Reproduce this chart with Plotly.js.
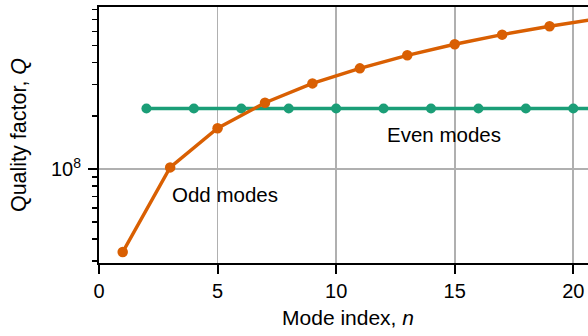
<!DOCTYPE html>
<html>
<head>
<meta charset="utf-8">
<script src="https://cdn.plot.ly/plotly-3.0.1.min.js"></script>
<style>
  html, body { margin: 0; padding: 0; overflow: hidden; background: #fff; }
  #chart { width: 600px; height: 336px; }
</style>
</head>
<body>
<div id="chart"></div>
<script>
// Quality factor of the odd and even modes versus mode index
const oddN = [1, 3, 5, 7, 9, 11, 13, 15, 17, 19, 21];
const oddQ = [3.38e7, 1.02e8, 1.70e8, 2.37e8, 3.05e8, 3.71e8, 4.40e8, 5.08e8, 5.76e8, 6.43e8, 7.08e8];
const evenN = [2, 4, 6, 8, 10, 12, 14, 16, 18, 20, 22];
const evenQ = [2.2e8, 2.2e8, 2.2e8, 2.2e8, 2.2e8, 2.2e8, 2.2e8, 2.2e8, 2.2e8, 2.2e8, 2.2e8];

const xTicks = [0, 5, 10, 15, 20];
const yMajor = [1e8];
const yMajorText = ['10<sup>8</sup>'];
const yMinor = [3e7, 4e7, 5e7, 6e7, 7e7, 8e7, 9e7, 2e8, 3e8, 4e8, 5e8, 6e8, 7e8, 8e8];

const ORANGE = '#d95f02';
const GREEN = '#1b9e77';
const FONT = 'Liberation Sans, Arial, Helvetica, sans-serif';

const traces = [
  {
    x: evenN, y: evenQ, type: 'scatter', mode: 'lines+markers',
    line: { color: GREEN, width: 3.4 },
    marker: { color: GREEN, size: 10 },
    cliponaxis: true, showlegend: false, hoverinfo: 'skip'
  },
  {
    x: oddN, y: oddQ, type: 'scatter', mode: 'lines+markers',
    line: { color: ORANGE, width: 3.4 },
    marker: { color: ORANGE, size: 10.5 },
    cliponaxis: true, showlegend: false, hoverinfo: 'skip'
  }
];

const layout = {
  width: 600, height: 336,
  margin: { l: 99, r: 3, t: 7, b: 73, pad: 0 },
  paper_bgcolor: '#fff', plot_bgcolor: '#fff',
  font: { family: FONT, size: 20, color: '#000' },
  showlegend: false,
  xaxis: {
    range: [0, 21],
    tickmode: 'array', tickvals: xTicks, ticktext: xTicks.map(String),
    ticks: 'outside', ticklen: 9, tickwidth: 2, tickcolor: '#000',
    showline: true, linecolor: '#000', linewidth: 2, mirror: true,
    showgrid: true, gridcolor: '#b0b0b0', gridwidth: 1.6,
    zeroline: false,
    tickfont: { family: FONT, size: 20, color: '#000' },
    title: { text: 'Mode index, <i>n</i>', font: { family: FONT, size: 21, color: '#000' }, standoff: 9 }
  },
  yaxis: {
    type: 'log',
    range: [7.467, 8.917],
    tickmode: 'array', tickvals: yMajor, ticktext: yMajorText,
    ticks: 'outside', ticklen: 9, tickwidth: 2, tickcolor: '#000',
    ticklabelstandoff: 3,
    minor: { tickmode: 'array', tickvals: yMinor, ticks: 'outside', ticklen: 5, tickwidth: 1.5, tickcolor: '#000', showgrid: false },
    showline: true, linecolor: '#000', linewidth: 2, mirror: true,
    showgrid: true, gridcolor: '#b0b0b0', gridwidth: 1.6,
    zeroline: false,
    tickfont: { family: FONT, size: 20, color: '#000' },
    title: { text: 'Quality factor, <i>Q</i>', font: { family: FONT, size: 21.5, color: '#000' }, standoff: 18 }
  },
  annotations: [
    { x: 3.0, y: 7.855, xref: 'x', yref: 'y', text: 'Odd modes', showarrow: false,
      xanchor: 'left', yanchor: 'middle', font: { family: FONT, size: 20.5, color: '#000' } },
    { x: 12.05, y: 8.194, xref: 'x', yref: 'y', text: 'Even modes', showarrow: false,
      xanchor: 'left', yanchor: 'middle', font: { family: FONT, size: 20.5, color: '#000' } }
  ]
};

Plotly.newPlot('chart', traces, layout, { staticPlot: true, displayModeBar: false });
</script>
</body>
</html>
